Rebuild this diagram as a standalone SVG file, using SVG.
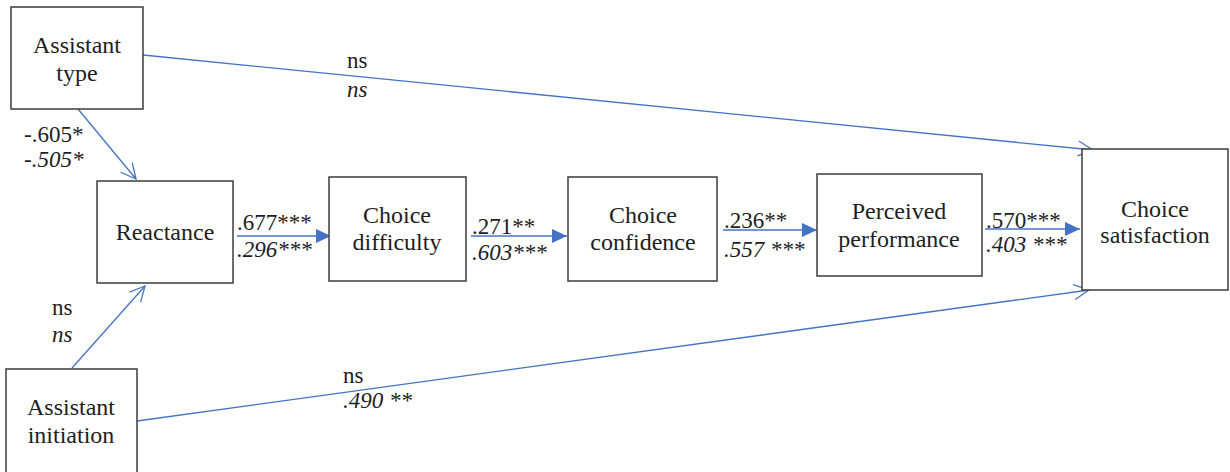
<svg xmlns="http://www.w3.org/2000/svg" width="1230" height="472" viewBox="0 0 1230 472" style="font-family:'Times New Roman','Liberation Serif',serif">
<style>
svg text, text.t, text.l{font-family:'Times New Roman','Liberation Serif',serif !important;fill:#1e1e1e}
.t{font-size:24px;text-anchor:middle}
.l{font-size:23px}
.i{font-style:italic}
.box{fill:#fff;stroke:#3c3c3c;stroke-width:1.5}
.ln{stroke:#4472c4;stroke-width:1.3;fill:none}
</style>
<defs>
<marker id="open" markerUnits="userSpaceOnUse" markerWidth="18" markerHeight="18" viewBox="0 0 18 18" refX="16" refY="9" orient="auto">
<path d="M1,1.5 L16,9 L1,16.5" fill="none" stroke="#4472c4" stroke-width="1.3"/>
</marker>
<marker id="fill" markerUnits="userSpaceOnUse" markerWidth="16" markerHeight="16" viewBox="0 0 16 16" refX="15" refY="8" orient="auto">
<path d="M0,1 L15,8 L0,15 Z" fill="#4472c4"/>
</marker>
</defs>
<rect width="1230" height="472" fill="#fff"/>
<g id="connectors">
<line class="ln" x1="78" y1="109" x2="136" y2="179" marker-end="url(#open)"/>
<line class="ln" x1="72" y1="368" x2="145" y2="286" marker-end="url(#open)"/>
<line class="ln" x1="143" y1="55" x2="1093" y2="150" marker-end="url(#open)"/>
<line class="ln" x1="137" y1="421" x2="1089" y2="290" marker-end="url(#open)"/>
<line class="ln" x1="237" y1="236" x2="331" y2="236" marker-end="url(#fill)"/>
<line class="ln" x1="471" y1="236" x2="567" y2="236" marker-end="url(#fill)"/>
<line class="ln" x1="723" y1="230" x2="817" y2="230" marker-end="url(#fill)"/>
<line class="ln" x1="985" y1="229" x2="1080" y2="229" marker-end="url(#fill)"/>
<text class="l" font-family="Times New Roman, serif" x="347" y="68">ns</text>
<text class="l i" font-family="Times New Roman, serif" x="347" y="97">ns</text>
<text class="l" font-family="Times New Roman, serif" x="24" y="142">-.605*</text>
<text class="l i" font-family="Times New Roman, serif" x="24" y="167">-.505*</text>
<text class="l" font-family="Times New Roman, serif" x="52" y="315">ns</text>
<text class="l i" font-family="Times New Roman, serif" x="52" y="342">ns</text>
<text class="l" font-family="Times New Roman, serif" x="343" y="383">ns</text>
<text class="l i" font-family="Times New Roman, serif" x="343" y="408">.490 **</text>
<text class="l" font-family="Times New Roman, serif" x="237" y="230">.677***</text>
<text class="l i" font-family="Times New Roman, serif" x="237" y="257">.296***</text>
<text class="l" font-family="Times New Roman, serif" x="472" y="234">.271**</text>
<text class="l i" font-family="Times New Roman, serif" x="472" y="260">.603***</text>
<text class="l" font-family="Times New Roman, serif" x="724" y="228">.236**</text>
<text class="l i" font-family="Times New Roman, serif" x="724" y="257">.557 ***</text>
<text class="l" font-family="Times New Roman, serif" x="986" y="228">.570***</text>
<text class="l i" font-family="Times New Roman, serif" x="986" y="252">.403 ***</text>
</g>
<g id="assistant-type">
<rect class="box" x="11" y="7" width="132" height="102"/>
<text class="t" font-family="Times New Roman, serif" x="77" y="53">Assistant</text>
<text class="t" font-family="Times New Roman, serif" x="77" y="81">type</text>
</g>
<g id="assistant-initiation">
<rect class="box" x="6" y="369" width="131" height="110"/>
<text class="t" font-family="Times New Roman, serif" x="71" y="415">Assistant</text>
<text class="t" font-family="Times New Roman, serif" x="71" y="443">initiation</text>
</g>
<g id="reactance">
<rect class="box" x="97" y="181" width="136" height="102"/>
<text class="t" font-family="Times New Roman, serif" x="165" y="240">Reactance</text>
</g>
<g id="choice-difficulty">
<rect class="box" x="329" y="177" width="137" height="104"/>
<text class="t" font-family="Times New Roman, serif" x="397" y="223">Choice</text>
<text class="t" font-family="Times New Roman, serif" x="397" y="250">difficulty</text>
</g>
<g id="choice-confidence">
<rect class="box" x="568" y="177" width="149" height="104"/>
<text class="t" font-family="Times New Roman, serif" x="643" y="223">Choice</text>
<text class="t" font-family="Times New Roman, serif" x="643" y="250">confidence</text>
</g>
<g id="perceived-performance">
<rect class="box" x="817" y="174" width="165" height="102"/>
<text class="t" font-family="Times New Roman, serif" x="899" y="219">Perceived</text>
<text class="t" font-family="Times New Roman, serif" x="899" y="247">performance</text>
</g>
<g id="choice-satisfaction">
<rect class="box" x="1082" y="149" width="146" height="141"/>
<text class="t" font-family="Times New Roman, serif" x="1155" y="217">Choice</text>
<text class="t" font-family="Times New Roman, serif" x="1155" y="243">satisfaction</text>
</g>
</svg>
